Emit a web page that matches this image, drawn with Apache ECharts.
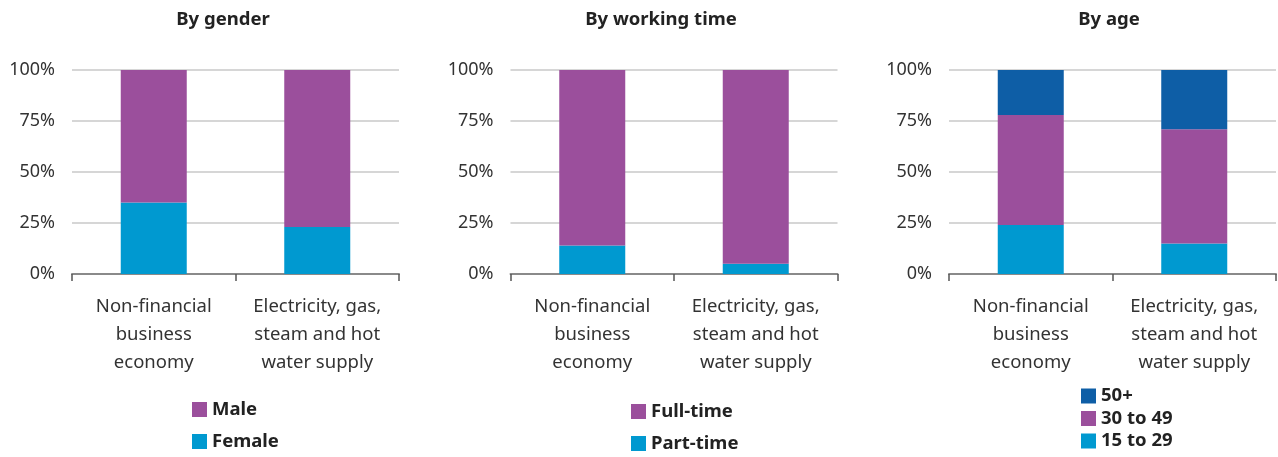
<!DOCTYPE html>
<html><head><meta charset="utf-8">
<script src="https://cdn.jsdelivr.net/npm/echarts@6/dist/echarts.min.js"></script>
<style>html,body{margin:0;padding:0;background:#fff}#c{width:1278px;height:457px}</style>
</head><body><div id="c"></div>
<script>
const categories = ['Non-financial\nbusiness\neconomy', 'Electricity, gas,\nsteam and hot\nwater supply'];
const panelTitles = ['By gender', 'By working time', 'By age'];
const yTicks = [0, 25, 50, 75, 100];
// By gender
const female = [35, 23];
const male = [65, 77];
// By working time
const partTime = [14, 5];
const fullTime = [86, 95];
// By age
const age15to29 = [24, 15];
const age30to49 = [54, 56];
const age50plus = [22, 29];

const PURPLE = '#9b4f9c', BLUE = '#0099d0', DARK = '#0e5ea6';
const FONT = 'Noto Sans';
const grids = [{left:72,width:327},{left:510.5,width:327},{left:949,width:327}];
const titleX = [218, 656, 1104];
const chart = echarts.init(document.getElementById('c'));
const xAxes = [], yAxes = [];
grids.forEach((g,i)=>{
  xAxes.push({type:'category', gridIndex:i, data:categories,
    axisLine:{lineStyle:{color:'#8a8a8a',width:2}},
    axisTick:{show:true,length:7,lineStyle:{color:'#555',width:1.5}},
    axisLabel:{fontFamily:FONT,fontSize:18.5,color:'#333',lineHeight:28,margin:19,interval:0}});
  yAxes.push({type:'value', gridIndex:i, min:0, max:100, interval:25,
    axisLabel:{formatter:v=>yTicks.includes(v)?v+'%':'',fontFamily:FONT,fontSize:18,color:'#333',margin:17},
    splitLine:{lineStyle:{color:'#c8c8c8',width:1.5}}, axisLine:{show:false}, axisTick:{show:false}});
});
function bar(name, data, idx, color){
  return {name, type:'bar', stack:'s'+idx, data, xAxisIndex:idx, yAxisIndex:idx,
    barWidth:66, itemStyle:{color}, emphasis:{disabled:true}};
}
const legendText = {fontFamily:FONT,fontSize:18.5,fontWeight:'bold',color:'#222'};
const legBase = {orient:'vertical',itemWidth:15,itemHeight:15,icon:'rect',padding:0,height:90,textStyle:legendText,itemStyle:{borderWidth:0}};
chart.setOption({
  animation:false,
  title: panelTitles.map((t,i)=>({text:t,left:titleX[i],top:5,textAlign:'center',
    textStyle:{fontFamily:FONT,fontSize:18.5,fontWeight:'bold',color:'#222'}})),
  grid: grids.map(g=>({left:g.left,width:g.width,top:70,height:204})),
  xAxis: xAxes, yAxis: yAxes,
  legend: [
    Object.assign({}, legBase, {data:['Male','Female'],left:192,top:400,itemGap:13}),
    Object.assign({}, legBase, {data:['Full-time','Part-time'],left:631,top:402,itemGap:13}),
    Object.assign({}, legBase, {data:['50+','30 to 49','15 to 29'],left:1081,top:386.5,itemGap:3.5})
  ],
  series: [
    bar('Female', female, 0, BLUE), bar('Male', male, 0, PURPLE),
    bar('Part-time', partTime, 1, BLUE), bar('Full-time', fullTime, 1, PURPLE),
    bar('15 to 29', age15to29, 2, BLUE), bar('30 to 49', age30to49, 2, PURPLE), bar('50+', age50plus, 2, DARK)
  ]
});
</script></body></html>
